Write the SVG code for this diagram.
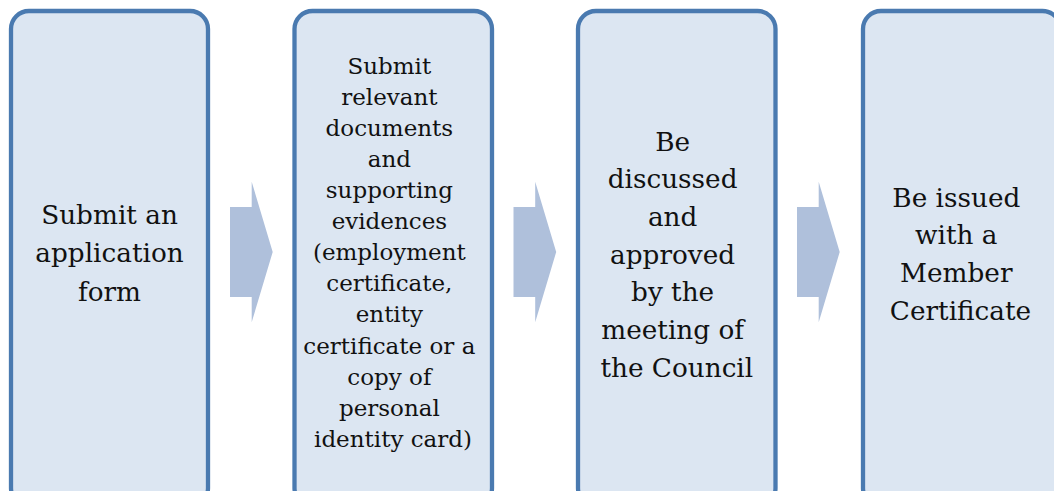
<svg xmlns="http://www.w3.org/2000/svg" width="1054" height="491" viewBox="0 0 1054 491">
<style>
.box{fill:#DCE6F2;stroke:#4A7AB0;stroke-width:4.3}
.arrow{fill:#AFC0DB}
text{font-family:"DejaVu Serif","Liberation Serif",serif;fill:#111;text-anchor:middle}
.big{font-size:26.3px}
.small{font-size:23px}
</style>
<rect width="1054" height="491" fill="#fff"/>
<g id="connectors">
<path class="arrow" d="M230,207 H251.7 V181.7 L272.7,252 L251.7,322.3 V297 H230 Z"/>
<path class="arrow" d="M513.5,207 H535.2 V181.7 L556.2,252 L535.2,322.3 V297 H513.5 Z"/>
<path class="arrow" d="M797,207 H818.7 V181.7 L839.7,252 L818.7,322.3 V297 H797 Z"/>
</g>
<g id="node1">
<rect class="box" x="11" y="11" width="197" height="495" rx="18"/>
<text class="big"><tspan x="109.5" y="223.5">Submit an</tspan><tspan x="109.5" y="262">application</tspan><tspan x="109.5" y="300.5">form</tspan></text>
</g>
<g id="node2">
<rect class="box" x="294.5" y="11" width="197.5" height="495" rx="18"/>
<text class="small">
<tspan x="393" y="74">Submit</tspan>
<tspan x="393" y="105.06">relevant</tspan>
<tspan x="393" y="136.12">documents</tspan>
<tspan x="393" y="167.18">and</tspan>
<tspan x="393" y="198.24">supporting</tspan>
<tspan x="393" y="229.3">evidences</tspan>
<tspan x="393" y="260.36">(employment</tspan>
<tspan x="393" y="291.42">certificate,</tspan>
<tspan x="393" y="322.48">entity</tspan>
<tspan x="393" y="353.54">certificate or a</tspan>
<tspan x="393" y="384.6">copy of</tspan>
<tspan x="393" y="415.66">personal</tspan>
<tspan x="393" y="446.72">identity card)</tspan>
</text>
</g>
<g id="node3">
<rect class="box" x="578" y="11" width="197.5" height="495" rx="18"/>
<text class="big">
<tspan x="676.8" y="150.7">Be</tspan>
<tspan x="676.8" y="188.4">discussed</tspan>
<tspan x="676.8" y="226">and</tspan>
<tspan x="676.8" y="263.7">approved</tspan>
<tspan x="676.8" y="301.4">by the</tspan>
<tspan x="676.8" y="339">meeting of</tspan>
<tspan x="676.8" y="376.7">the Council</tspan>
</text>
</g>
<g id="node4">
<rect class="box" x="863" y="11" width="197.5" height="495" rx="18"/>
<text class="big">
<tspan x="960.5" y="206.7">Be issued</tspan>
<tspan x="960.5" y="244.4">with a</tspan>
<tspan x="960.5" y="282">Member</tspan>
<tspan x="960.5" y="320">Certificate</tspan>
</text>
</g>
</svg>
